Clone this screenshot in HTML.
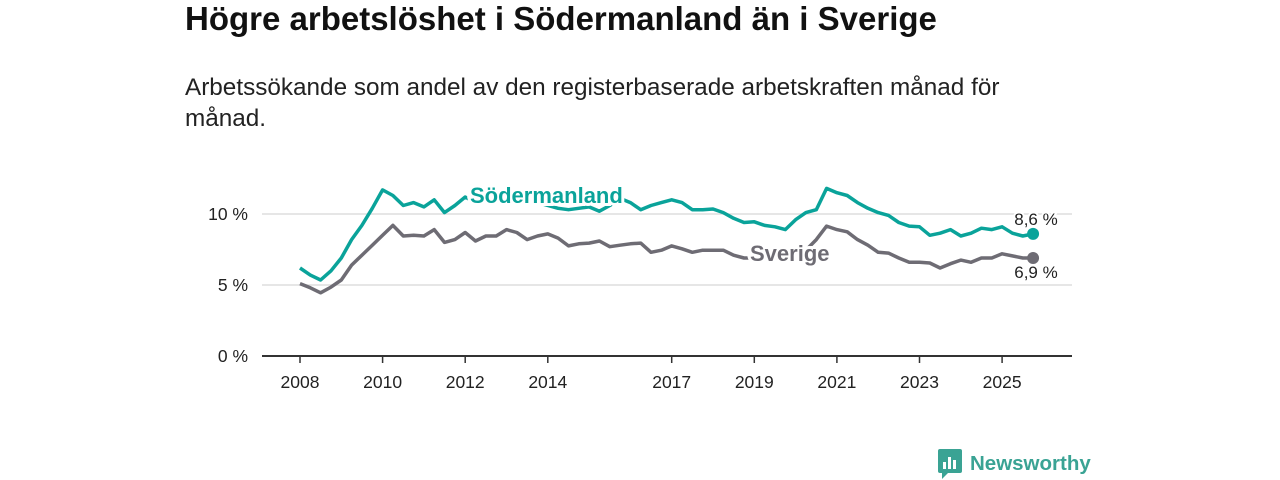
<!DOCTYPE html>
<html><head><meta charset="utf-8">
<style>
body{margin:0;width:1280px;height:480px;background:#fff;font-family:"Liberation Sans","DejaVu Sans",sans-serif;overflow:hidden;position:relative}
h1{position:absolute;left:185px;top:0px;margin:0;font-size:33px;font-weight:bold;color:#111}
p{position:absolute;left:185px;top:72px;margin:0;font-size:24.3px;line-height:31px;color:#222;width:850px}
svg{position:absolute;left:0;top:0}
</style></head><body>
<h1>Högre arbetslöshet i Södermanland än i Sverige</h1>
<p>Arbetssökande som andel av den registerbaserade arbetskraften månad för månad.</p>
<svg id="chart" width="1280" height="480"></svg>
<script>
const startYear = 2008;
const step = 0.25;
const sodermanland = [6.2,5.7,5.35,6.0,6.9,8.2,9.2,10.4,11.7,11.3,10.6,10.8,10.5,11.0,10.1,10.6,11.2,10.8,11.0,11.0,11.1,11.0,11.0,10.8,10.6,10.4,10.3,10.4,10.5,10.2,10.6,11.1,10.8,10.3,10.6,10.8,11.0,10.8,10.3,10.3,10.35,10.1,9.7,9.4,9.45,9.2,9.1,8.9,9.6,10.1,10.3,11.8,11.5,11.3,10.8,10.4,10.1,9.9,9.4,9.15,9.1,8.5,8.65,8.9,8.45,8.65,9.0,8.9,9.1,8.65,8.45,8.6];
const sverige = [5.1,4.8,4.45,4.85,5.35,6.4,7.1,7.8,8.5,9.2,8.45,8.5,8.45,8.9,8.0,8.2,8.7,8.1,8.45,8.45,8.9,8.7,8.2,8.45,8.6,8.3,7.75,7.9,7.95,8.1,7.7,7.8,7.9,7.95,7.3,7.45,7.75,7.55,7.3,7.45,7.45,7.45,7.1,6.9,6.9,6.9,6.9,6.85,6.75,7.45,8.2,9.15,8.9,8.75,8.2,7.8,7.3,7.25,6.9,6.6,6.6,6.55,6.2,6.5,6.75,6.6,6.9,6.9,7.2,7.05,6.9,6.9];
const yTicks = [0,5,10];
const yTickLabels = ["0 %","5 %","10 %"];
const xTicks = [2008,2010,2012,2014,2017,2019,2021,2023,2025];

const NS="http://www.w3.org/2000/svg";
const svg=document.getElementById('chart');
const xS=y=>300+(y-2008)*41.3;
const yS=v=>356-v*14.2;
function mk(t,a){const e=document.createElementNS(NS,t);for(const k in a)e.setAttribute(k,a[k]);svg.appendChild(e);return e;}
yTicks.forEach((t,i)=>{
  if(t>0){const g=mk('line',{x1:262,x2:1072,y1:yS(t),y2:yS(t),stroke:'#ddd','stroke-width':1.5});
  
  }
  const l=mk('text',{x:248,y:yS(t)+6,'text-anchor':'end','font-size':17.5,fill:'#222'});l.textContent=yTickLabels[i];
  
  
});
const ax=mk('line',{x1:262,x2:1072,y1:356,y2:356,stroke:'#333','stroke-width':2});


xTicks.forEach(t=>{
  const tk=mk('line',{x1:xS(t),x2:xS(t),y1:356,y2:363,stroke:'#333','stroke-width':1.5});
  
  
  const l=mk('text',{x:xS(t),y:388,'text-anchor':'middle','font-size':17.5,fill:'#222'});l.textContent=t;
  
  
});
function line(vals,col,name){
  const d=vals.map((v,i)=>(i?'L':'M')+xS(startYear+i*step).toFixed(1)+','+yS(v).toFixed(1)).join('');
  const p=mk('path',{d:d,fill:'none',stroke:col,'stroke-width':3.5,'stroke-linejoin':'round'});
  
  
  const n=vals.length-1;
  const c=mk('circle',{cx:xS(startYear+n*step),cy:yS(vals[n]),r:6,fill:col});
  
  
}
line(sverige,'#6e6c74','sverige');
line(sodermanland,'#0aa39a','sodermanland');
function lab(x,y,t,col,name,size,bold,anchor){
  const e=mk('text',{x:x,y:y,'font-size':size,'font-weight':bold?'bold':'normal',fill:col,stroke:'#fff','stroke-width':bold?6:4,'paint-order':'stroke','text-anchor':anchor||'start'});
  e.textContent=t;
  
  
}
lab(470,203,'Södermanland','#0aa39a','sodermanland-label',22,true);
lab(750,261,'Sverige','#6e6c74','sverige-label',22,true);
lab(1036,225,sodermanland[sodermanland.length-1].toFixed(1).replace('.',',')+' %','#222','sodermanland-value',17,false,'middle');
lab(1036,278,'6,9 %','#222','sverige-value',17,false,'middle');
</script>
<div style="position:absolute;left:938px;top:449px;display:flex;align-items:center">
<svg width="26" height="30" style="position:static"><rect x="0" y="0" width="24" height="24" rx="2" fill="#3aa394"/><polygon points="4,24 10,24 4,30" fill="#3aa394"/><rect x="5" y="13" width="3" height="7" fill="#fff"/><rect x="10" y="8" width="3" height="12" fill="#fff"/><rect x="15" y="11" width="3" height="9" fill="#fff"/></svg>
<span style="font-size:20.5px;font-weight:bold;color:#3aa394;margin-left:6px">Newsworthy</span></div>
</body></html>
